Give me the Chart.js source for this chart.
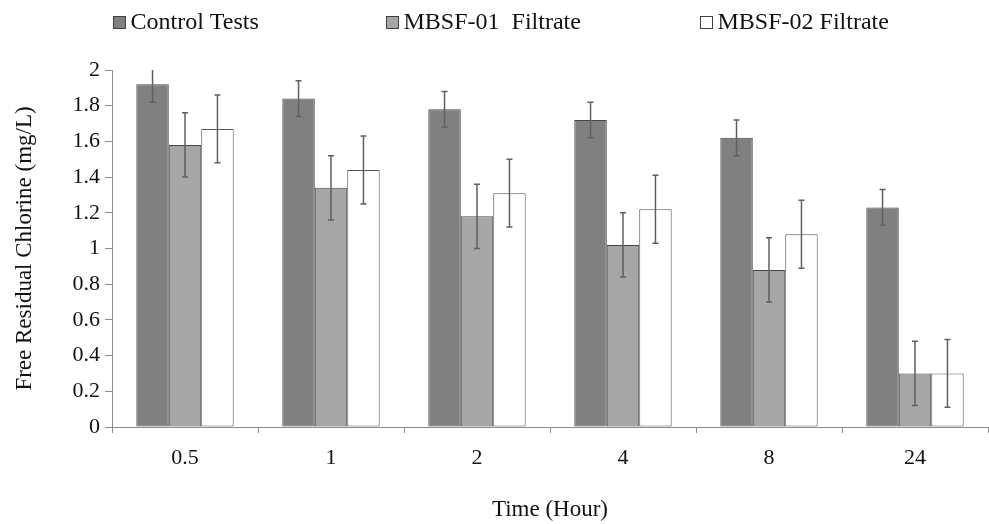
<!DOCTYPE html>
<html>
<head>
<meta charset="utf-8">
<script src="https://cdn.jsdelivr.net/npm/chart.js@4.4.1/dist/chart.umd.min.js"></script>
<style>
  html, body { margin: 0; padding: 0; background: #fff; }
  #wrap { width: 989px; height: 524px; position: relative; }
</style>
</head>
<body>
<div id="wrap"><canvas id="chart"></canvas></div>
<script>
// ---- data ----
const timeLabels = ['0.5', '1', '2', '4', '8', '24'];
const seriesNames = ['Control Tests', 'MBSF-01  Filtrate', 'MBSF-02 Filtrate'];

const controlTests = [1.92, 1.84, 1.78, 1.72, 1.62, 1.23];
const controlErr   = [0.10, 0.10, 0.10, 0.10, 0.10, 0.10];
const mbsf01       = [1.58, 1.34, 1.18, 1.02, 0.88, 0.30];
const mbsf01Err    = [0.18, 0.18, 0.18, 0.18, 0.18, 0.18];
const mbsf02       = [1.67, 1.44, 1.31, 1.22, 1.08, 0.30];
const mbsf02Err    = [0.19, 0.19, 0.19, 0.19, 0.19, 0.19];

const FONT = "'Liberation Serif', 'Times New Roman', serif";
const AXIS = '#8c8c8c';

// ---- error bars (clipped to plot area) ----
const errorBars = {
  id: 'errorBars',
  afterDatasetsDraw(chart) {
    const { ctx, chartArea, scales: { y } } = chart;
    ctx.save();
    ctx.beginPath();
    ctx.rect(chartArea.left, chartArea.top, chartArea.width, chartArea.height);
    ctx.clip();
    ctx.strokeStyle = '#606060';
    ctx.lineWidth = 1.5;
    chart.data.datasets.forEach((ds, i) => {
      chart.getDatasetMeta(i).data.forEach((bar, j) => {
        const v = ds.data[j], e = ds.errors[j];
        const yTop = y.getPixelForValue(v + e);
        const yBot = y.getPixelForValue(v - e);
        ctx.beginPath();
        ctx.moveTo(bar.x, yTop); ctx.lineTo(bar.x, yBot);
        ctx.moveTo(bar.x - 3, yTop); ctx.lineTo(bar.x + 3, yTop);
        ctx.moveTo(bar.x - 3, yBot); ctx.lineTo(bar.x + 3, yBot);
        ctx.stroke();
      });
    });
    ctx.restore();
  }
};

// ---- legend spread across the top ----
const spreadLegend = {
  id: 'spreadLegend',
  afterDraw(chart) {
    const { ctx, width } = chart;
    const starts = [0.1143, 0.3903, 0.7078];
    ctx.save();
    ctx.font = `24px ${FONT}`;
    ctx.textBaseline = 'middle';
    ctx.textAlign = 'left';
    chart.data.datasets.forEach((ds, i) => {
      const x = Math.round(width * starts[i]) + 0.5;
      const yc = 22.5;
      ctx.fillStyle = ds.backgroundColor;
      ctx.fillRect(x, yc - 6, 12, 12);
      ctx.strokeStyle = '#404040';
      ctx.lineWidth = 1;
      ctx.strokeRect(x, yc - 6, 12, 12);
      ctx.fillStyle = '#111';
      ctx.fillText(ds.label, x + 17, yc);
    });
    ctx.restore();
  }
};

const barStyle = { borderColor: '#454545', borderWidth: 1, borderSkipped: false };

new Chart(document.getElementById('chart'), {
  type: 'bar',
  data: {
    labels: timeLabels,
    datasets: [
      { label: seriesNames[0], data: controlTests, errors: controlErr, backgroundColor: '#808080', ...barStyle },
      { label: seriesNames[1], data: mbsf01, errors: mbsf01Err, backgroundColor: '#a6a6a6', ...barStyle },
      { label: seriesNames[2], data: mbsf02, errors: mbsf02Err, backgroundColor: '#ffffff', borderColor: '#5a5a5a', borderWidth: 1, borderSkipped: false }
    ]
  },
  options: {
    responsive: true,
    maintainAspectRatio: false,
    animation: false,
    layout: { padding: { top: 70, right: 1, bottom: 0, left: 0 } },
    datasets: { bar: { categoryPercentage: 0.667, barPercentage: 1.0 } },
    plugins: {
      legend: { display: false },
      tooltip: { enabled: false }
    },
    scales: {
      x: {
        afterFit: s => { s.height = 97; },
        grid: { offset: true, drawOnChartArea: false, drawTicks: true, tickLength: 6, color: AXIS },
        border: { color: AXIS, width: 1 },
        ticks: { color: '#111', padding: 12, font: { family: FONT, size: 22 } },
        title: { display: true, text: 'Time (Hour)', color: '#111', padding: { top: 0, bottom: 0 }, font: { family: FONT, size: 23 } }
      },
      y: {
        min: 0,
        max: 2,
        afterFit: s => { s.width = 112; },
        grid: { drawOnChartArea: false, drawTicks: true, tickLength: 7, color: AXIS },
        border: { color: AXIS, width: 1 },
        ticks: {
          stepSize: 0.2,
          color: '#111',
          padding: 5,
          font: { family: FONT, size: 22 },
          callback: v => String(+v.toFixed(1))
        },
        title: { display: true, text: 'Free Residual Chlorine (mg/L)', color: '#111', padding: { top: 11, bottom: 0 }, font: { family: FONT, size: 23 } }
      }
    }
  },
  plugins: [errorBars, spreadLegend]
});
</script>
</body>
</html>
